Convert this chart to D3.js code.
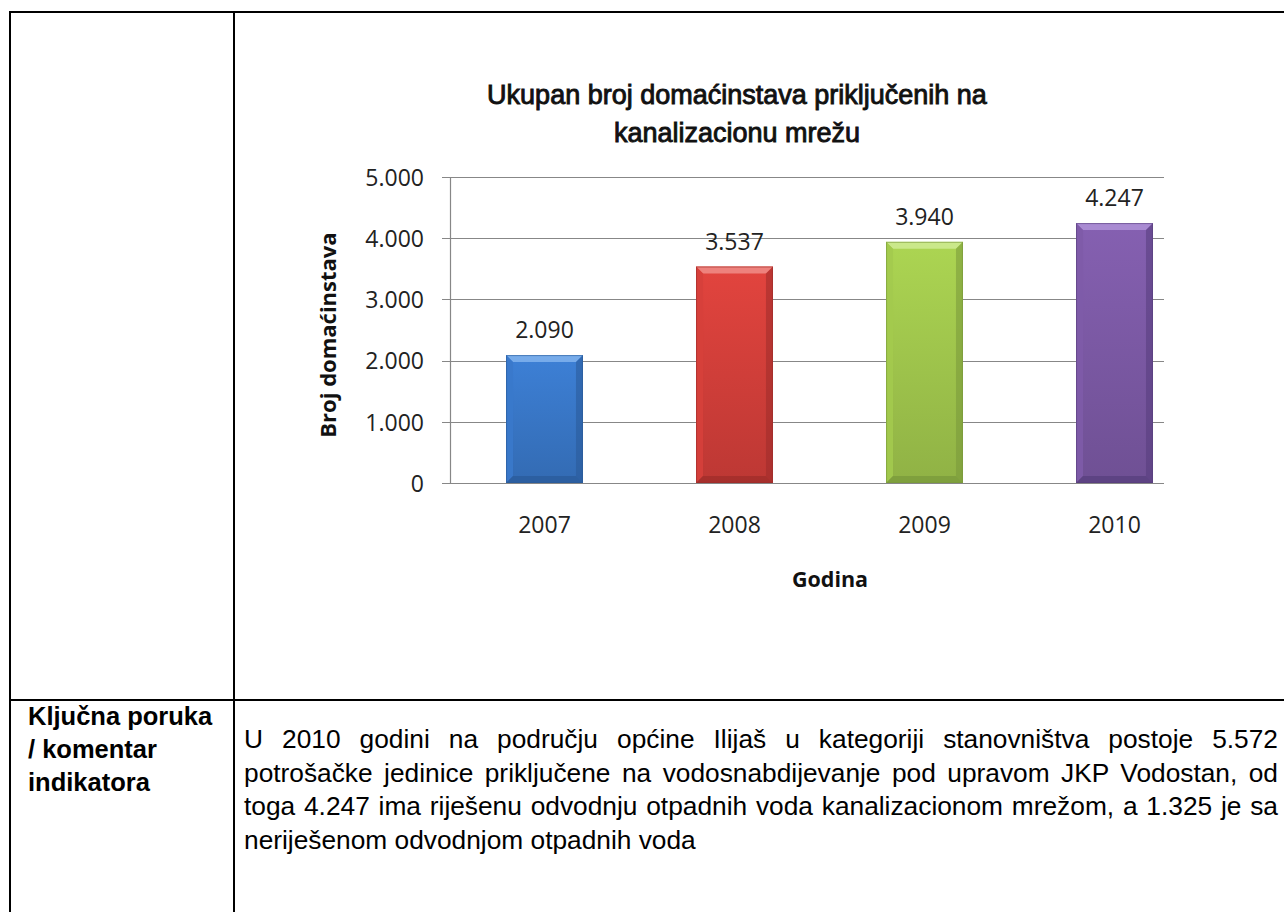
<!DOCTYPE html>
<html>
<head>
<meta charset="utf-8">
<script src="https://cdn.jsdelivr.net/npm/d3@7"></script>
<style>
  html, body { margin: 0; padding: 0; background: #fff; }
  svg { display: block; }
</style>
</head>
<body>
<div id="canvas"></div>
<script>
const years = ['2007', '2008', '2009', '2010'];
const households = [2090, 3537, 3940, 4247];
const yTicks = [0, 1000, 2000, 3000, 4000, 5000];

const titleLines = ['Ukupan broj domaćinstava priključenih na', 'kanalizacionu mrežu'];
const yTitle = 'Broj domaćinstava';
const xTitle = 'Godina';

const cellLabel = ['Ključna poruka', '/ komentar', 'indikatora'];
const cellText = [
  'U 2010 godini na području općine Ilijaš u kategoriji stanovništva postoje 5.572',
  'potrošačke jedinice priključene na vodosnabdijevanje pod upravom JKP Vodostan, od',
  'toga 4.247 ima riješenu odvodnju otpadnih voda kanalizacionom mrežom, a 1.325 je sa',
  'neriješenom odvodnjom otpadnih voda'
];

// bar colours: base, light edge, dark edge
const palette = [
  ['#3a79cb', '#7db0ec', '#2a5a98'],
  ['#d6403b', '#f08a84', '#9c2c29'],
  ['#a3ca4e', '#cdea90', '#78983a'],
  ['#7e5ba8', '#ad90d6', '#563d7c']
];

const W = 1284, H = 912;
const svg = d3.select('#canvas').append('svg').attr('width', W).attr('height', H);

// ---- table borders
const tbl = svg.append('g').attr('stroke', '#000').attr('stroke-width', 2);
tbl.append('line').attr('x1', 10).attr('x2', W).attr('y1', 12).attr('y2', 12);
tbl.append('line').attr('x1', 10).attr('x2', 10).attr('y1', 11).attr('y2', H);
tbl.append('line').attr('x1', 234).attr('x2', 234).attr('y1', 11).attr('y2', H);
tbl.append('line').attr('x1', 10).attr('x2', W).attr('y1', 700).attr('y2', 700);

// ---- chart
const plot = { left: 450, right: 1164, top: 177, bottom: 483 };
const x = d3.scaleBand().domain(years).range([449.5, 1209.5]).paddingInner(0.595).paddingOuter(0.2975);
const y = d3.scaleLinear().domain([0, 5000]).range([plot.bottom, plot.top]);

const loc = d3.formatLocale({ decimal: ',', thousands: '.', grouping: [3], currency: ['', ''] });
const fmt = loc.format(',d');

const chart = svg.append('g');

// gridlines + outer ticks
chart.append('g').selectAll('line').data(yTicks).join('line')
  .attr('x1', plot.left - 8).attr('x2', plot.right)
  .attr('y1', d => Math.round(y(d)) + 0.5).attr('y2', d => Math.round(y(d)) + 0.5)
  .attr('stroke', '#878787').attr('stroke-width', 1.2);
chart.append('line')
  .attr('x1', plot.left + 0.5).attr('x2', plot.left + 0.5)
  .attr('y1', plot.top).attr('y2', plot.bottom)
  .attr('stroke', '#878787').attr('stroke-width', 1.2);

const yAxis = chart.append('g').attr('transform', `translate(${plot.left},0)`)
  .call(d3.axisLeft(y).tickValues(yTicks).tickSize(0).tickPadding(26).tickFormat(fmt));
yAxis.select('.domain').remove();
yAxis.selectAll('text').attr('font-family', 'Open Sans').attr('font-size', 23).attr('fill', '#222').attr('dy', '0.36em');

const xAxis = chart.append('g').attr('transform', `translate(0,${plot.bottom})`)
  .call(d3.axisBottom(x).tickSize(0).tickPadding(34));
xAxis.select('.domain').remove();
xAxis.selectAll('text').attr('font-family', 'Open Sans').attr('font-size', 23).attr('fill', '#222');

// bars with bevel
const defs = svg.append('defs');
palette.forEach((c, i) => {
  const g = defs.append('linearGradient').attr('id', 'grad' + i).attr('x1', 0).attr('x2', 0).attr('y1', 0).attr('y2', 1);
  g.append('stop').attr('offset', 0).attr('stop-color', d3.color(c[0]).brighter(0.15));
  g.append('stop').attr('offset', 1).attr('stop-color', d3.color(c[0]).darker(0.35));
});

const bv = 7;
const bars = chart.append('g').selectAll('g').data(households).join('g');
bars.each(function (d, i) {
  const g = d3.select(this);
  const x0 = x(years[i]), x1 = x0 + x.bandwidth();
  const y0 = y(d), y1 = y(0);
  const c = palette[i];
  g.append('rect').attr('x', x0).attr('y', y0).attr('width', x1 - x0).attr('height', y1 - y0)
    .attr('fill', `url(#grad${i})`);
  const poly = (pts, fill, op) => g.append('polygon').attr('points', pts.map(p => p.join(',')).join(' '))
    .attr('fill', fill).attr('opacity', op);
  poly([[x0, y0], [x1, y0], [x1 - bv, y0 + bv], [x0 + bv, y0 + bv]], c[1], 0.9);
  poly([[x0, y0], [x0 + bv, y0 + bv], [x0 + bv, y1 - bv], [x0, y1]], c[0], 0.9);
  poly([[x1, y0], [x1 - bv, y0 + bv], [x1 - bv, y1 - bv], [x1, y1]], c[2], 0.55);
  poly([[x0, y1], [x0 + bv, y1 - bv], [x1 - bv, y1 - bv], [x1, y1]], c[2], 0.7);
  g.append('rect').attr('x', x0 + 0.5).attr('y', y0 + 0.5).attr('width', x1 - x0 - 1).attr('height', y1 - y0 - 1)
    .attr('fill', 'none').attr('stroke', c[2]).attr('stroke-opacity', 0.6);
});

// data labels
chart.append('g').selectAll('text').data(households).join('text')
  .attr('x', (d, i) => x(years[i]) + x.bandwidth() / 2)
  .attr('y', d => y(d) - 17)
  .attr('text-anchor', 'middle')
  .attr('font-family', 'Open Sans').attr('font-size', 23).attr('fill', '#222')
  .text(d => fmt(d));

// titles
svg.append('g').selectAll('text').data(titleLines).join('text')
  .attr('x', 737).attr('y', (d, i) => 104 + i * 38)
  .attr('text-anchor', 'middle')
  .attr('font-family', 'Liberation Sans').attr('font-size', 27).attr('fill', '#111')
  .attr('stroke', '#111').attr('stroke-width', 0.9)
  .text(d => d);

svg.append('text')
  .attr('transform', 'translate(336,335) rotate(-90)')
  .attr('text-anchor', 'middle')
  .attr('font-family', 'Open Sans').attr('font-weight', 'bold').attr('font-size', 22).attr('fill', '#111')
  .text(yTitle);

svg.append('text')
  .attr('x', 830).attr('y', 587)
  .attr('text-anchor', 'middle')
  .attr('font-family', 'Open Sans').attr('font-weight', 'bold').attr('font-size', 21.5).attr('fill', '#111')
  .text(xTitle);

// ---- table text
svg.append('g').selectAll('text').data(cellLabel).join('text')
  .attr('x', 28).attr('y', (d, i) => 725 + i * 33)
  .attr('font-family', 'Liberation Sans').attr('font-weight', 'bold').attr('font-size', 25.5).attr('fill', '#000')
  .text(d => d);

const textLeft = 244, textRight = 1278;
const para = svg.append('g').selectAll('text').data(cellText).join('text')
  .attr('x', textLeft).attr('y', (d, i) => 748 + i * 33.5)
  .attr('font-family', 'Liberation Sans').attr('font-size', 26.3).attr('fill', '#000')
  .style('white-space', 'pre')
  .text(d => d);

// justify all lines but the last
para.each(function (d, i) {
  if (i === cellText.length - 1) return;
  const w = this.getComputedTextLength();
  const gaps = d.split(' ').length - 1;
  const extra = (textRight - textLeft - w) / gaps;
  d3.select(this).attr('word-spacing', extra);
});
</script>
</body>
</html>
